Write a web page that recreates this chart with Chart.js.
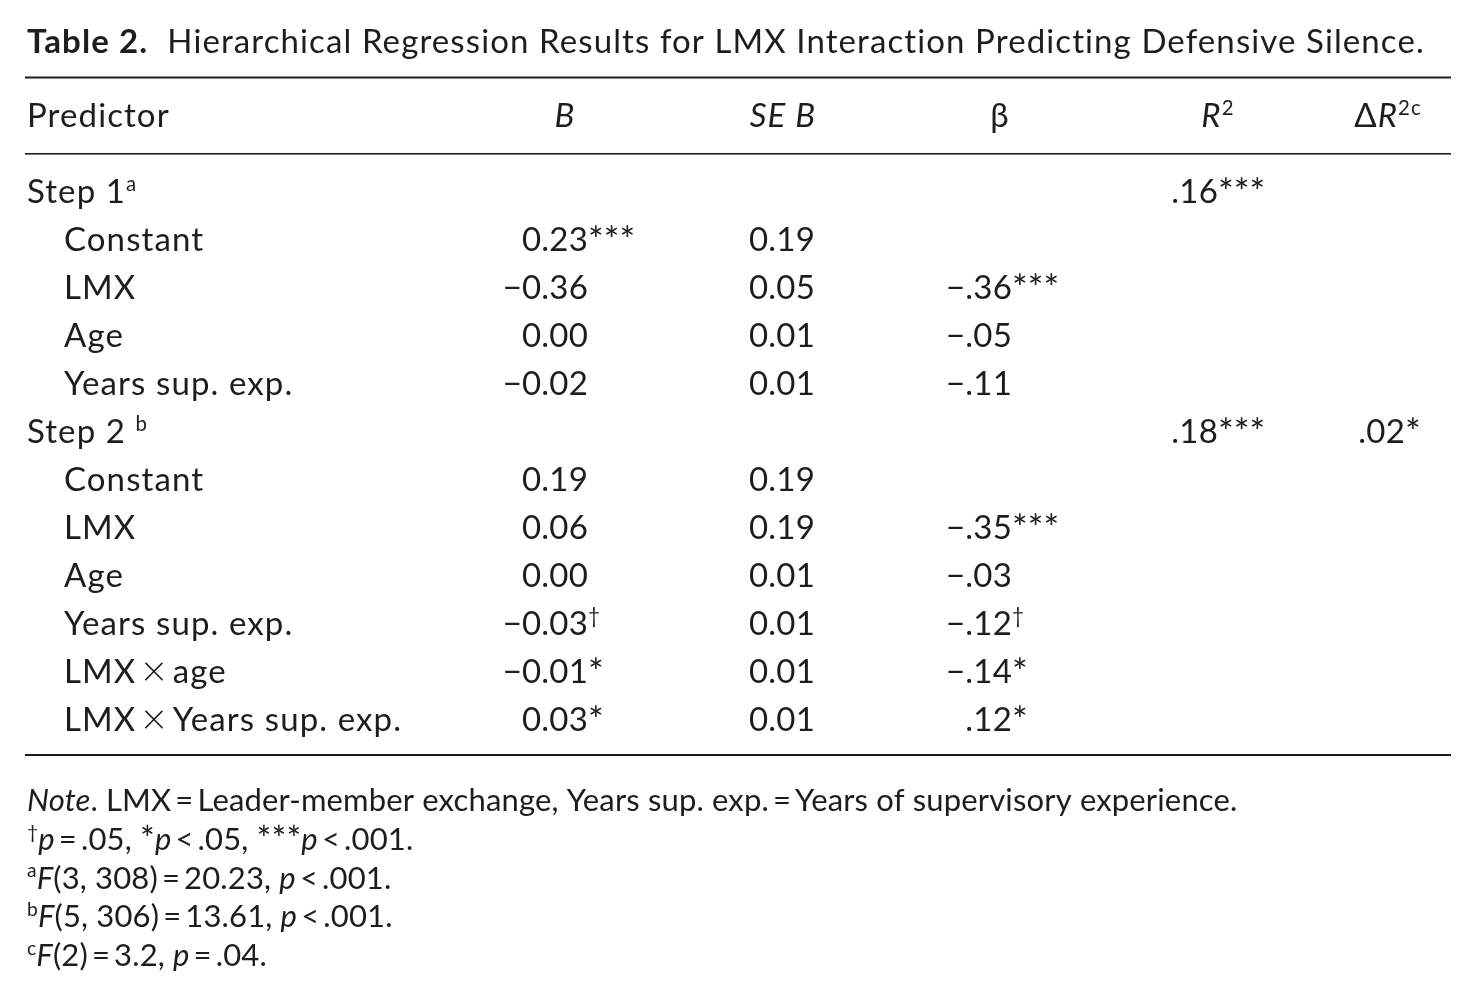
<!DOCTYPE html>
<html>
<head>
<meta charset="utf-8">
<script src="https://cdn.jsdelivr.net/npm/chart.js@4.4.1/dist/chart.umd.min.js"></script>
<style>
  html, body { margin: 0; background: #fff; }
  #wrap { width: 1477px; height: 1000px; }
</style>
</head>
<body>
<div id="wrap"><canvas id="tbl" width="1477" height="1000"></canvas></div>
<script>
// Table 2 values, row by row (empty string = empty cell)
const title = "<b>Table 2.</b>  Hierarchical Regression Results for LMX Interaction Predicting Defensive Silence.";
const headers = ["Predictor", "<i>B</i>", "<i>SE B</i>", "β", "<i>R</i><sup>2</sup>", "Δ<i>R</i><sup>2c</sup>"];
const predictors = [
	"Step 1<sup>a</sup>", "Constant", "LMX", "Age", "Years sup. exp.",
	"Step 2 <sup>b</sup>", "Constant", "LMX", "Age", "Years sup. exp.",
	"LMX\u2009×\u2009age", "LMX\u2009×\u2009Years sup. exp."
];
const coefB = ["", "0.23***", "−0.36", "0.00", "−0.02", "", "0.19", "0.06", "0.00", "−0.03<sup>†</sup>", "−0.01*", "0.03*"];
const seB = ["", "0.19", "0.05", "0.01", "0.01", "", "0.19", "0.19", "0.01", "0.01", "0.01", "0.01"];
const beta = ["", "", "−.36***", "−.05", "−.11", "", "", "−.35***", "−.03", "−.12<sup>†</sup>", "−.14*", ".12*"];
const rSquared = [".16***", "", "", "", "", ".18***", "", "", "", "", "", ""];
const deltaR2 = ["", "", "", "", "", ".02*", "", "", "", "", "", ""];
const notes = [
	"<i>Note</i>. LMX\u2009=\u2009Leader-member exchange, Years sup. exp.\u2009=\u2009Years of supervisory experience.",
	"<sup>†</sup><i>p</i>\u2009=\u2009.05, *<i>p</i>\u2009<\u2009.05, ***<i>p</i>\u2009<\u2009.001.",
	"<sup>a</sup><i>F</i>(3, 308)\u2009=\u200920.23, <i>p</i>\u2009<\u2009.001.",
	"<sup>b</sup><i>F</i>(5, 306)\u2009=\u200913.61, <i>p</i>\u2009<\u2009.001.",
	"<sup>c</sup><i>F</i>(2)\u2009=\u20093.2, <i>p</i>\u2009=\u2009.04."
];

// layout (pixels)
const FONT = "Lato";
const SIZE = 33, SPACING = 1.1, NUM_SPACING = 0.2;
const NOTE_SIZE = 31, NOTE_SPACING = 0.15;
const INK = "#1d1d1b";
const LEFT = 27, RULE_L = 25, RULE_R = 1451;
const STEP_X = 27, TERM_X = 64;
const NUM_X = { b: 588, se: 815, beta: 1012, r2: 1218, dr2: 1405 };
const HEAD_X = [27, 565, 783, 1000, 1218, 1388];

function parseRich(str) {
	const segs = [];
	let italic = false, sup = false, bold = false;
	str.split(/(<\/?i>|<\/?sup>|<\/?b>)/).forEach((p) => {
		if (p === "<i>") italic = true;
		else if (p === "</i>") italic = false;
		else if (p === "<sup>") sup = true;
		else if (p === "</sup>") sup = false;
		else if (p === "<b>") bold = true;
		else if (p === "</b>") bold = false;
		else if (p) {
			// asterisks and the times sign are drawn a little larger, as in the print
			p.split(/(\*+|×)/).forEach((q) => {
				if (!q) return;
				const kind = q === "×" ? "times" : q[0] === "*" ? "star" : "";
				segs.push({ text: q, italic, sup, bold, kind });
			});
		}
	});
	return segs;
}

function segSize(s, size) {
	if (s.sup) return size * 0.62;
	if (s.kind === "times") return size * 1.3;
	if (s.kind === "star") return size * 1.12;
	return size;
}

function segFont(s, size) {
	const weight = s.bold ? "bold " : s.kind === "times" ? "300 " : "";
	return (s.italic ? "italic " : "") + weight + segSize(s, size) + "px " + FONT;
}

function segDy(s, size) {
	if (s.sup) return -size * 0.36;
	if (s.kind === "times") return size * 0.08;
	if (s.kind === "star") return size * 0.05;
	return 0;
}

function richWidth(ctx, segs, size) {
	let w = 0;
	segs.forEach((s) => {
		ctx.font = segFont(s, size);
		w += ctx.measureText(s.text).width;
	});
	return w;
}

function drawRich(ctx, str, x, y, size, align, spacing) {
	ctx.letterSpacing = (spacing === undefined ? SPACING : spacing) + "px";
	const segs = parseRich(str);
	let cx = x;
	if (align === "right") cx = x - richWidth(ctx, segs, size);
	if (align === "center") cx = x - richWidth(ctx, segs, size) / 2;
	ctx.textAlign = "left";
	ctx.textBaseline = "alphabetic";
	segs.forEach((s) => {
		ctx.font = segFont(s, size);
		ctx.fillText(s.text, cx, y + segDy(s, size));
		cx += ctx.measureText(s.text).width;
	});
}

// numbers line up on their last digit, stars / daggers hang to the right
function drawNumber(ctx, str, x, y) {
	const m = str.match(/^([−\-]?[0-9.]+)(.*)$/);
	if (!m) { drawRich(ctx, str, x, y, SIZE, "right", NUM_SPACING); return; }
	drawRich(ctx, m[1], x, y, SIZE, "right", NUM_SPACING);
	if (m[2]) drawRich(ctx, m[2], x, y, SIZE, "left", 0);
}

function cells(list, x) {
	return list.map((txt, i) => ({ x, y: i, txt })).filter((p) => p.txt !== "");
}

const isStep = predictors.map((p) => p.startsWith("Step"));

const tablePlugin = {
	id: "tableText",
	afterDatasetsDraw(chart) {
		const ctx = chart.ctx;
		ctx.save();
		ctx.fillStyle = INK;

		drawRich(ctx, title, LEFT, 53, SIZE, "left");

		ctx.fillRect(RULE_L, 76.5, RULE_R - RULE_L, 2);
		headers.forEach((h, i) => drawRich(ctx, h, HEAD_X[i], 127, SIZE, i === 0 ? "left" : "center"));
		ctx.fillRect(RULE_L, 153, RULE_R - RULE_L, 1.6);

		chart.data.datasets.forEach((ds, d) => {
			const meta = chart.getDatasetMeta(d);
			meta.data.forEach((el, i) => {
				const txt = ds.data[i].txt;
				if (ds.kind === "label") drawRich(ctx, txt, el.x, el.y, SIZE, "left");
				else drawNumber(ctx, txt, el.x, el.y);
			});
		});

		ctx.fillRect(RULE_L, 754, RULE_R - RULE_L, 2);
		notes.forEach((n, i) => drawRich(ctx, n, LEFT, 811 + i * 38.8, NOTE_SIZE, "left", NOTE_SPACING));
		ctx.restore();
	}
};

const ctx = document.getElementById("tbl").getContext("2d");
const myChart = new Chart(ctx, {
	type: "scatter",
	data: {
		datasets: [
			{ kind: "label", data: cells(predictors.map((p, i) => (isStep[i] ? p : "")), STEP_X) },
			{ kind: "label", data: cells(predictors.map((p, i) => (isStep[i] ? "" : p)), TERM_X) },
			{ kind: "num", data: cells(coefB, NUM_X.b) },
			{ kind: "num", data: cells(seB, NUM_X.se) },
			{ kind: "num", data: cells(beta, NUM_X.beta) },
			{ kind: "num", data: cells(rSquared, NUM_X.r2) },
			{ kind: "num", data: cells(deltaR2, NUM_X.dr2) },
		],
	},
	options: {
		responsive: false,
		animation: false,
		layout: { padding: { top: 179, bottom: 245, left: 0, right: 0 } },
		elements: { point: { radius: 0, hoverRadius: 0 } },
		plugins: { legend: { display: false }, tooltip: { enabled: false } },
		events: [],
		scales: {
			x: { type: "linear", min: 0, max: 1477, display: false },
			y: { type: "linear", min: -0.5, max: 11.5, reverse: true, display: false },
		},
	},
	plugins: [tablePlugin],
});
</script>
</body>
</html>
